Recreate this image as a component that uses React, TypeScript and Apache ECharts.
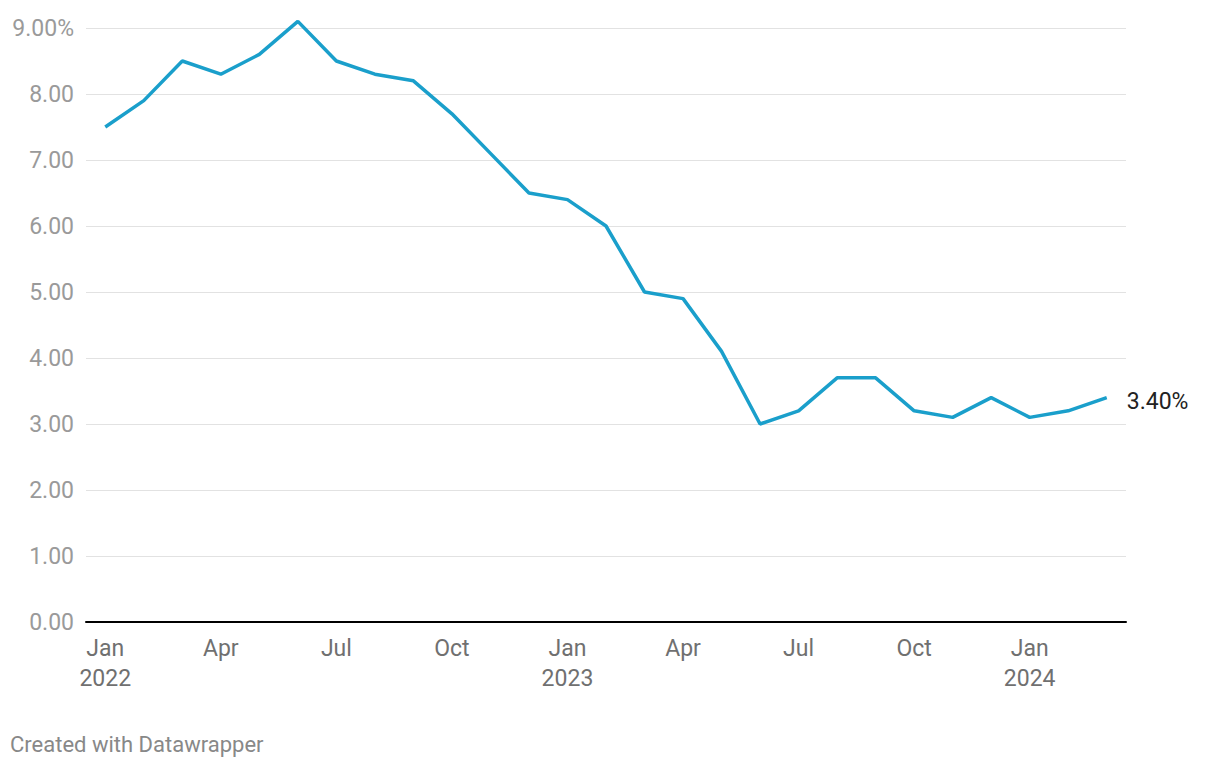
import React, { useEffect, useRef } from "react";
import * as echarts from "echarts";

const months = [
  "Jan\n2022", "Feb", "Mar", "Apr", "May", "Jun", "Jul", "Aug", "Sep", "Oct", "Nov", "Dec",
  "Jan\n2023", "Feb", "Mar", "Apr", "May", "Jun", "Jul", "Aug", "Sep", "Oct", "Nov", "Dec",
  "Jan\n2024", "Feb", "Mar",
];
const inflation = [
  7.5, 7.9, 8.5, 8.3, 8.6, 9.1, 8.5, 8.3, 8.2, 7.7, 7.1, 6.5,
  6.4, 6.0, 5.0, 4.9, 4.1, 3.0, 3.2, 3.7, 3.7, 3.2, 3.1, 3.4,
  3.1, 3.2, 3.4,
];
const yMin = 0;
const yMax = 9;
const yStep = 1;
const footer = "Created with Datawrapper";

export default function App() {
  const ref = useRef<HTMLDivElement>(null);
  useEffect(() => {
    if (!ref.current) return;
    const chart = echarts.init(ref.current, null, { renderer: "svg" });
    const font = "Roboto, 'Noto Sans', sans-serif";
    chart.setOption({
      animation: false,
      backgroundColor: "#ffffff",
      textStyle: { fontFamily: font },
      grid: { left: 86, right: 94, top: 28, bottom: 146, containLabel: false },
      xAxis: {
        type: "category",
        data: months,
        boundaryGap: true,
        axisLine: { show: true, lineStyle: { color: "#000000", width: 2 } },
        axisTick: { show: false },
        splitLine: { show: false },
        axisLabel: {
          interval: (i: number) => i % 3 === 0,
          color: "#707070",
          fontSize: 23,
          lineHeight: 30,
          margin: 11,
          fontFamily: font,
        },
      },
      yAxis: {
        type: "value",
        min: yMin,
        max: yMax,
        interval: yStep,
        axisLine: { show: false },
        axisTick: { show: false },
        splitLine: { show: true, lineStyle: { color: "#e2e2e2", width: 1 } },
        axisLabel: {
          color: "#9a9a9a",
          fontSize: 23,
          margin: 12,
          align: "right",
          fontFamily: font,
          formatter: (v: number) => (v === yMax ? v.toFixed(2) + "%" : v.toFixed(2)),
        },
      },
      series: [
        {
          type: "line",
          data: inflation,
          symbol: "none",
          clip: false,
          lineStyle: { color: "#1a9fcb", width: 3.5 },
          itemStyle: { color: "#1a9fcb" },
          endLabel: {
            show: true,
            formatter: (p: any) => Number(p.value).toFixed(2) + "%",
            color: "#222222",
            fontSize: 23,
            distance: 20,
            offset: [0, 4],
            fontFamily: font,
          },
        },
      ],
      graphic: [
        {
          type: "text",
          left: 10,
          top: 733,
          style: { text: footer, fill: "#888888", fontSize: 22, fontFamily: font },
        },
      ],
    });
    return () => chart.dispose();
  }, []);
  return (
    <div
      ref={ref}
      style={{ position: "fixed", left: 0, top: 0, width: 1220, height: 768 }}
    />
  );
}
